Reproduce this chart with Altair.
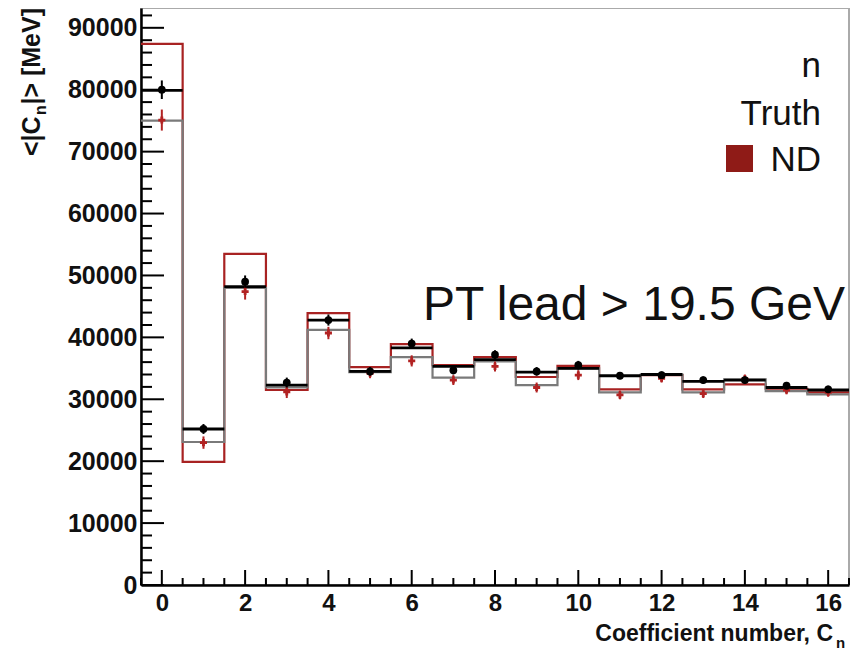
import altair as alt
import pandas as pd

# ---------------- data ----------------
bins = list(range(17))
red_hist = [87400, 19900, 53500, 31500, 43900, 35200, 38900, 35500, 36800,
            33600, 35400, 31600, 33900, 31600, 32400, 31700, 31100]
black_hist = [79900, 25200, 48200, 32300, 42800, 34500, 38300, 35300, 36400,
              34400, 35000, 33800, 34000, 32900, 33100, 31900, 31500]
gray_hist = [75000, 23100, 48000, 31900, 41200, 34400, 36800, 33500, 36100,
             32300, 35000, 31100, 34000, 31100, 33200, 31300, 30800]
black_pts = [80000, 25200, 49000, 32700, 42800, 34500, 39000, 34700, 37200,
             34500, 35500, 33800, 33900, 33100, 33100, 32200, 31600]
black_err = [1500, 800, 1000, 800, 900, 700, 800, 700, 700,
             700, 700, 600, 600, 600, 600, 600, 600]
red_pts = [75100, 23000, 47400, 31200, 40700, 34200, 36200, 33100, 35300,
           31900, 33900, 30700, 33400, 30900, 33300, 31500, 31100]
red_err = [1700, 1000, 1300, 1000, 1000, 800, 900, 800, 800,
           800, 800, 700, 700, 700, 700, 700, 700]

y_major = list(range(0, 90001, 10000))
y_minor = [v for v in range(0, 93001, 2000) if v % 10000 != 0]
x_major = list(range(0, 17, 2))
x_minor = [v / 2 for v in range(-1, 34) if v % 4 != 0]

W, H = 708, 577
FONT = "Liberation Sans"
RED = "#a82222"
GRAY = "#7a7a7a"

xs = alt.Scale(domain=[-0.5, 16.5], nice=False, zero=False)
ys = alt.Scale(domain=[0, 93200], nice=False)


def step_df(vals):
    edges = [b - 0.5 for b in bins] + [bins[-1] + 0.5]
    return pd.DataFrame({"x": edges, "y": list(vals) + [vals[-1]]})


def hist(vals, color, width):
    return alt.Chart(step_df(vals)).mark_line(
        interpolate="step-after", color=color, strokeWidth=width
    ).encode(x=alt.X("x:Q", scale=xs), y=alt.Y("y:Q", scale=ys))


pts = pd.DataFrame({
    "bin": bins,
    "lo_edge": [b - 0.5 for b in bins],
    "hi_edge": [b + 0.5 for b in bins],
    "bh": black_hist,
    "b": black_pts, "blo": [v - e for v, e in zip(black_pts, black_err)],
    "bhi": [v + e for v, e in zip(black_pts, black_err)],
    "r": red_pts, "rlo": [v - e for v, e in zip(red_pts, red_err)],
    "rhi": [v + e for v, e in zip(red_pts, red_err)],
})

base_pts = alt.Chart(pts).encode(x=alt.X("bin:Q", scale=xs))

x_axis = alt.Axis(values=x_major, ticks=False, tickSize=0, labelPadding=6,
                  labelFont=FONT, labelFontWeight="bold", labelFontSize=24,
                  labelColor="#111", domainColor="black", domainWidth=2.5,
                  grid=False, title=None, labelFlush=False)
y_axis = alt.Axis(values=y_major, ticks=False, tickSize=0, labelPadding=4,
                  labelFont=FONT, labelFontWeight="bold", labelFontSize=25,
                  labelColor="#111", domainColor="black", domainWidth=2.5,
                  grid=False, title=None, format="d", labelFlush=False)

axes = alt.Chart(pd.DataFrame({"x": [0], "y": [0]})).mark_point(opacity=0).encode(
    x=alt.X("x:Q", scale=xs, axis=x_axis),
    y=alt.Y("y:Q", scale=ys, axis=y_axis),
)

# inner ticks (ROOT style)
ytick_major = alt.Chart(pd.DataFrame({"v": y_major})).mark_rule(
    color="black", strokeWidth=2).encode(
    y=alt.Y("v:Q", scale=ys), x=alt.value(0), x2=alt.value(23))
ytick_minor = alt.Chart(pd.DataFrame({"v": y_minor})).mark_rule(
    color="black", strokeWidth=2).encode(
    y=alt.Y("v:Q", scale=ys), x=alt.value(0), x2=alt.value(11))
xtick_major = alt.Chart(pd.DataFrame({"v": x_major})).mark_rule(
    color="black", strokeWidth=2).encode(
    x=alt.X("v:Q", scale=xs), y=alt.value(H), y2=alt.value(H - 15))
xtick_minor = alt.Chart(pd.DataFrame({"v": x_minor})).mark_rule(
    color="black", strokeWidth=2).encode(
    x=alt.X("v:Q", scale=xs), y=alt.value(H), y2=alt.value(H - 7))

black_hbars = alt.Chart(pts).mark_rule(color="black", strokeWidth=2.8).encode(
    x=alt.X("lo_edge:Q", scale=xs), x2="hi_edge:Q", y=alt.Y("bh:Q", scale=ys))
red_bars = base_pts.mark_rule(color="#b22222", strokeWidth=2).encode(
    y=alt.Y("rlo:Q", scale=ys), y2="rhi:Q")
red_marks = base_pts.mark_point(shape="cross", filled=True, size=50,
                                color="#b22222", opacity=1).encode(
    y=alt.Y("r:Q", scale=ys))
black_bars = base_pts.mark_rule(color="black", strokeWidth=2).encode(
    y=alt.Y("blo:Q", scale=ys), y2="bhi:Q")
black_marks = base_pts.mark_point(shape="circle", filled=True, size=60,
                                  color="black", opacity=1).encode(
    y=alt.Y("b:Q", scale=ys))

# texts
def txt(s, x, y, size, weight="normal", align="left", angle=0, color="#111"):
    return alt.Chart(pd.DataFrame({"t": [s]})).mark_text(
        font=FONT, fontSize=size, fontWeight=weight, align=align,
        baseline="alphabetic", angle=angle, color=color
    ).encode(text="t:N", x=alt.value(x), y=alt.value(y))

cut_label = txt("PT lead > 19.5 GeV", 704, 312, 48, align="right")
leg_n = txt("n", 680, 69, 35, align="right")
leg_truth = txt("Truth", 680, 117, 35, align="right")
leg_nd = txt("ND", 680, 163, 35, align="right")
leg_sq = alt.Chart(pd.DataFrame({"a": [0]})).mark_point(
    shape="square", filled=True, size=729, color="#8f1b17", opacity=1
).encode(x=alt.value(598.5), y=alt.value(150.5))

xt_main = txt("Coefficient number, C", 692, 633, 23, weight="bold", align="right")
xt_sub = txt("n", 695, 640, 15, weight="bold", align="left")

yt_a = txt("<|C", -101, 148, 25, weight="bold", align="left", angle=270)
yt_sub = txt("n", -95, 107, 16, weight="bold", align="left", angle=270)
yt_b = txt("|> [MeV]", -101, 0, 25, weight="bold", align="right", angle=270)

chart = alt.layer(
    axes,
    hist(red_hist, RED, 2.2),
    hist(gray_hist, GRAY, 2.2),
    black_hbars,
    red_bars, red_marks, black_bars, black_marks,
    ytick_major, ytick_minor, xtick_major, xtick_minor,
    cut_label, leg_n, leg_truth, leg_nd, leg_sq,
    xt_main, xt_sub, yt_a, yt_sub, yt_b,
).properties(
    width=W, height=H,
    autosize=alt.AutoSizeParams(type="none"),
    padding={"left": 133, "top": 0, "right": 10, "bottom": 66},
).configure_view(stroke="#aaaaaa", strokeWidth=2)

chart.save("out.html", embed_options={"renderer": "svg", "actions": False})
